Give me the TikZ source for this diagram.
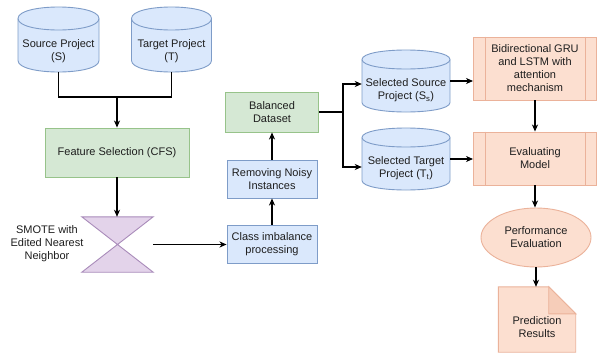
\documentclass[tikz,border=0pt]{standalone}
\usepackage{fontspec}
\setmainfont{Liberation Sans}
\usetikzlibrary{arrows.meta,calc,shapes.geometric}
\definecolor{bluef}{HTML}{DAE8FC}\definecolor{blues}{HTML}{7E9CC8}
\definecolor{greenf}{HTML}{D5E8D4}\definecolor{greens}{HTML}{97C38A}
\definecolor{purf}{HTML}{E3D3EA}\definecolor{purs}{HTML}{A98BBA}
\definecolor{oraf}{HTML}{FCDFD0}\definecolor{oras}{HTML}{EBB29A}
\definecolor{orad}{HTML}{F6CDB9}
\definecolor{txtc}{HTML}{1E1E1E}
\tikzset{
  txt/.style={font=\fontsize{11}{13}\selectfont, text=txtc, align=center, inner sep=0pt},
  bx/.style={draw, line width=0.9pt, rectangle, inner sep=1pt, font=\fontsize{11}{13}\selectfont, text=txtc, align=center},
  bluebox/.style={bx, fill=bluef, draw=blues},
  greenbox/.style={bx, fill=greenf, draw=greens},
  orabox/.style={bx, fill=oraf, draw=oras},
  cylsty/.style={draw=blues, fill=bluef, line width=0.9pt},
  arr/.style={line width=1.2pt, -{Stealth[length=7pt,width=6pt,inset=2pt]}},
  ln/.style={line width=1.2pt},
}
% #1 name, #2 cx, #3 top, #4 bottom, #5 half width, #6 ry, #7 text
\newcommand\dbcyl[7]{%
 \pgfmathsetmacro\cL{#2-#5}\pgfmathsetmacro\cR{#2+#5}%
 \pgfmathsetmacro\cT{#3+#6}\pgfmathsetmacro\cB{#4-#6}%
 \pgfmathsetmacro\cBc{#4+0.3333*#6}%
 \pgfmathsetmacro\cTc{#3+#6+1.3333*#6}%
 \pgfmathsetmacro\cTu{#3-0.3333*#6}%
 \path[cylsty] (\cL,\cT) -- (\cL,\cB) .. controls (\cL,\cBc) and (\cR,\cBc) .. (\cR,\cB) -- (\cR,\cT) .. controls (\cR,\cTu) and (\cL,\cTu) .. cycle;
 \path[cylsty, fill=none] (\cL,\cT) .. controls (\cL,\cTc) and (\cR,\cTc) .. (\cR,\cT);
 \node[inner sep=0pt, minimum width={2*#5*1pt}, minimum height={(#4-#3)*1pt}] (#1) at (#2,{(#3+#4)/2}) {};
 \node[txt] (#1t) at (#2,{(#3+#4)/2+#6}) {#7};
}
\begin{document}
\begin{tikzpicture}[x=1pt,y=-1pt]
\useasboundingbox[fill=white] (0,0) rectangle (598,354);

% cylinders
\dbcyl{src}{58.5}{7}{72}{40.5}{11.5}{Source Project\\(S)}
\dbcyl{tgt}{171.5}{7}{72}{40}{11.5}{Target Project\\(T)}
\dbcyl{ss}{406}{50}{112}{44}{9.5}{Selected Source\\Project (S\textsubscript{s})}
\dbcyl{st}{406}{128}{190}{44}{9.5}{Selected Target\\Project (T\textsubscript{t})}

% left column
\node[greenbox, minimum width=144pt, minimum height=49pt] (fs) at (117,152.5) {Feature Selection (CFS)};
\node[inner sep=0pt, minimum width=71pt, minimum height=55pt] (hg) at (117.5,244.5) {};
\path[draw=purs, fill=purf, line width=0.9pt] (hg.north west) -- (hg.north east) -- (hg.south west) -- (hg.south east) -- cycle;
\node[txt] (smote) at (47,244) {SMOTE with\\Edited Nearest\\Neighbor};

% middle column
\node[bluebox, minimum width=90pt, minimum height=38pt] (cls) at (272,244) {Class imbalance\\processing};
\node[bluebox, minimum width=90pt, minimum height=38pt] (rem) at (272,179) {Removing Noisy\\Instances};
\node[greenbox, minimum width=93pt, minimum height=40pt] (bal) at (272,112) {Balanced\\Dataset};

% right column
\node[orabox, minimum width=123pt, minimum height=63pt] (bid) at (535,68.5) {Bidirectional GRU\\and LSTM with\\attention\\mechanism};
\node[orabox, minimum width=123pt, minimum height=53pt] (evm) at (535,158.5) {Evaluating\\Model};
\foreach \n in {bid,evm}{
  \draw[draw=oras, line width=0.9pt] ([xshift=12pt]\n.north west) -- ([xshift=12pt]\n.south west);
  \draw[draw=oras, line width=0.9pt] ([xshift=-12pt]\n.north east) -- ([xshift=-12pt]\n.south east);
}
\node[ellipse, draw=oras, fill=oraf, line width=0.9pt, inner sep=0pt, minimum width=110pt, minimum height=59pt, txt] (perf) at (536,237.5) {Performance\\Evaluation};
\node[inner sep=0pt, minimum width=77pt, minimum height=65pt] (pred) at (537,319.5) {};
\path[draw=oras, fill=oraf, line width=0.9pt] (pred.north west) -- ([xshift=-27pt]pred.north east) -- ([yshift=-27pt]pred.north east) -- (pred.south east) -- (pred.south west) -- cycle;
\path[draw=oras, fill=orad, line width=0.9pt] ([xshift=-27pt]pred.north east) -- ([xshift=-27pt,yshift=-27pt]pred.north east) -- ([yshift=-27pt]pred.north east) -- cycle;
\node[txt] (predt) at (537,327) {Prediction\\Results};

% connectors
\coordinate (j) at (117,97);
\draw[ln] (src.south) -- (src.south |- j) -- (tgt.south |- j) -- (tgt.south);
\draw[arr] (j) -- (fs.north);
\draw[arr] (fs.south) -- (fs.south |- hg.north);
\draw[arr] (hg.east) -- (hg.east -| cls.west);
\draw[arr] (cls.north) -- (rem.south);
\draw[arr] (rem.north) -- (bal.south);
\coordinate (br) at (343,112);
\coordinate (ssin) at ($(ss.west)+(0,3)$);
\coordinate (stin) at ($(st.west)+(0,8)$);
\draw[ln] (bal.east) -- (br);
\draw[arr] (br) |- (ssin);
\draw[arr] (br) |- (stin);
\draw[arr] (ss.east) -- (ss.east -| bid.west);
\draw[arr] (st.east) -- (st.east -| evm.west);
\draw[arr] (bid.south) -- (evm.north);
\draw[arr] (evm.south) -- (evm.south |- perf.north);
\draw[arr] (perf.south) -- (perf.south |- pred.north);
\end{tikzpicture}
\end{document}
